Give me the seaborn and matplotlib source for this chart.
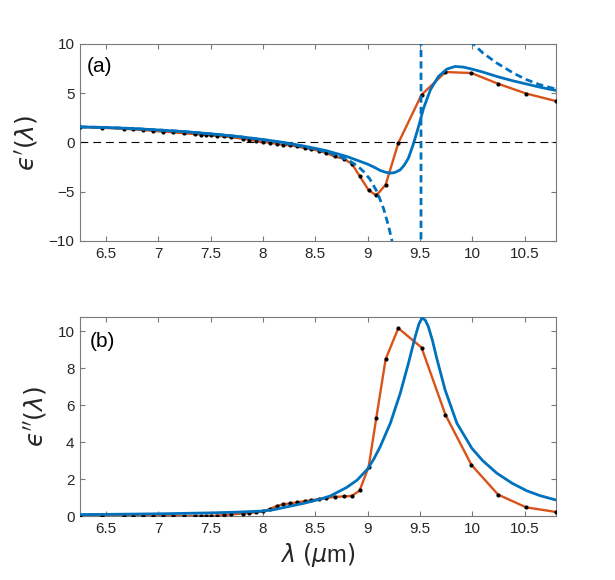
import numpy as np
import pandas as pd
import matplotlib
matplotlib.use("Agg")
import matplotlib.pyplot as plt
import seaborn as sns

# ---------------- data ----------------
wavelength = [6.252, 6.458, 6.671, 6.760, 6.855, 6.950, 7.046, 7.141, 7.246, 7.353,
              7.410, 7.458, 7.506, 7.563, 7.627, 7.693, 7.810, 7.868, 7.930, 8.000,
              8.065, 8.129, 8.190, 8.260, 8.325, 8.398, 8.460, 8.534, 8.605, 8.684,
              8.771, 8.851, 8.924, 9.010, 9.083, 9.172, 9.293, 9.515, 9.744, 9.992,
              10.247, 10.515, 10.801]

eps_real_data = [1.57, 1.49, 1.39, 1.33, 1.27, 1.18, 1.10, 1.03, 0.93, 0.85,
                 0.80, 0.76, 0.72, 0.67, 0.61, 0.54, 0.38, 0.27, 0.17, 0.07,
                 -0.03, -0.13, -0.23, -0.30, -0.40, -0.57, -0.67, -0.84, -1.08, -1.42,
                 -1.65, -2.19, -3.42, -4.85, -5.38, -4.29, -0.06, 4.84, 7.15, 7.05,
                 5.96, 4.97, 4.20]

eps_imag_data = [0.00, 0.00, 0.00, 0.00, 0.00, 0.00, 0.00, 0.00, 0.00, 0.00,
                 0.00, 0.01, 0.01, 0.02, 0.05, 0.09, 0.13, 0.16, 0.20, 0.25,
                 0.38, 0.54, 0.63, 0.69, 0.74, 0.81, 0.85, 0.92, 0.98, 1.04,
                 1.06, 1.09, 1.39, 2.67, 5.33, 8.50, 10.18, 9.13, 5.48, 2.77,
                 1.16, 0.47, 0.22]

# damped model (blue solid), real part
model_re_wl = [6.25, 6.5, 6.75, 7.0, 7.25, 7.5, 7.75, 8.0, 8.2, 8.4, 8.6, 8.8,
               9.0, 9.06, 9.12, 9.17, 9.217, 9.26, 9.312, 9.35, 9.39, 9.44, 9.487,
               9.535, 9.6, 9.677, 9.757, 9.837, 9.916, 9.996, 10.1, 10.235,
               10.38, 10.52, 10.66, 10.8]
model_re = [1.58, 1.52, 1.42, 1.27, 1.10, 0.88, 0.62, 0.30, 0.00, -0.38, -0.82, -1.42,
            -2.20, -2.50, -2.84, -3.02, -3.11, -3.05, -2.77, -2.30, -1.59, -0.06, 1.63,
            3.49, 5.35, 6.70, 7.45, 7.72, 7.65, 7.45, 7.15, 6.70,
            6.28, 5.93, 5.58, 5.28]

# undamped model (blue dashed), real part -- pole near 9.51 um
undamped_wl = [6.25, 6.5, 6.75, 7.0, 7.25, 7.5, 7.75, 8.0, 8.2, 8.4, 8.5, 8.644,
               8.75, 8.835, 8.9, 8.96, 9.02, 9.09, 9.152, 9.2, 9.232, 9.3, 9.4,
               9.505, 9.515, 9.6, 9.7, 9.8, 9.9, 10.0, 10.1, 10.235, 10.4, 10.52,
               10.65, 10.8]
undamped_re = [1.58, 1.52, 1.42, 1.27, 1.10, 0.88, 0.62, 0.28, -0.05, -0.45, -0.68, -1.08,
               -1.50, -1.93, -2.35, -2.94, -3.70, -5.00, -6.70, -8.50, -9.95, -15.0, -30.0,
               -400.0, 400.0, 40.0, 20.0, 14.5, 11.8, 10.1, 9.1, 8.06, 7.0, 6.37,
               5.85, 5.42]

# damped model (blue solid), imaginary part
model_im_wl = [6.25, 6.5, 7.0, 7.5, 7.75, 8.0, 8.1, 8.23, 8.39, 8.55, 8.644, 8.8,
               8.9, 9.0, 9.06, 9.12, 9.217, 9.312, 9.39, 9.455, 9.49, 9.52, 9.55,
               9.58, 9.62, 9.66, 9.74, 9.853, 9.996, 10.1, 10.235, 10.38, 10.52,
               10.65, 10.8]
model_im = [0.08, 0.09, 0.12, 0.17, 0.21, 0.27, 0.34, 0.50, 0.69, 0.92, 1.09, 1.55,
            1.95, 2.55, 3.10, 3.76, 5.03, 6.66, 8.28, 9.73, 10.40, 10.73, 10.62,
            10.27, 9.50, 8.56, 6.84, 5.03, 3.67, 3.00, 2.32, 1.78, 1.37,
            1.10, 0.87]

x_ticks = [6.5, 7, 7.5, 8, 8.5, 9, 9.5, 10, 10.5]
x_tick_labels = ["6.5", "7", "7.5", "8", "8.5", "9", "9.5", "10", "10.5"]
y_ticks_a = [-10, -5, 0, 5, 10]
y_ticks_b = [0, 2, 4, 6, 8, 10]

# ---------------- styling ----------------
sns.set_theme(style="white")
plt.rcParams["font.family"] = ["Liberation Sans", "DejaVu Sans"]
plt.rcParams["mathtext.fontset"] = "dejavusans"

BLUE = "#0072BD"
ORANGE = "#D95319"
AX_COL = "#7a7a7a"
TXT_COL = "#262626"

df_data = pd.DataFrame({"wl": wavelength, "re": eps_real_data, "im": eps_imag_data})
df_mre = pd.DataFrame({"wl": model_re_wl, "v": model_re})
df_und = pd.DataFrame({"wl": undamped_wl, "v": undamped_re})
df_mim = pd.DataFrame({"wl": model_im_wl, "v": model_im})

fig = plt.figure(figsize=(6.15, 5.8), dpi=100)
ax1 = fig.add_axes([0.130, 0.5845, 0.774, 0.3397])
ax2 = fig.add_axes([0.130, 0.1103, 0.774, 0.343])

def style_axes(ax):
    for s in ax.spines.values():
        s.set_color(AX_COL)
        s.set_linewidth(0.8)
        s.set_visible(True)
    ax.tick_params(direction="in", length=3.5, width=0.8, color=AX_COL,
                   top=True, right=True, bottom=True, left=True,
                   labelsize=11, labelcolor=TXT_COL, pad=4)
    ax.set_xlim(6.25, 10.8)
    ax.set_xticks(x_ticks)
    ax.set_xticklabels(x_tick_labels)
    ax.grid(False)

# ---- panel (a)
ax1.axhline(0, color="black", lw=0.8, dashes=(7, 4.5), zorder=1)
sns.lineplot(data=df_data, x="wl", y="re", ax=ax1, color=ORANGE, lw=1.7,
             sort=False, estimator=None, zorder=2)
sns.scatterplot(data=df_data, x="wl", y="re", ax=ax1, color="black", s=9,
                edgecolor="black", linewidth=0, zorder=3)
sns.lineplot(data=df_und, x="wl", y="v", ax=ax1, color=BLUE, lw=2.0,
             sort=False, estimator=None, zorder=4, dashes=False)
ax1.lines[-1].set_dashes((2.6, 1.5))
sns.lineplot(data=df_mre, x="wl", y="v", ax=ax1, color=BLUE, lw=2.0,
             sort=False, estimator=None, zorder=5)
ax1.set_ylim(-10, 10)
ax1.set_yticks(y_ticks_a)
ax1.set_xlabel("")
ax1.set_ylabel("$\u03f5'(\\lambda)$", fontsize=18, color=TXT_COL, labelpad=6)
style_axes(ax1)
ax1.text(0.015, 0.885, "(a)", transform=ax1.transAxes, fontsize=15,
         va="center", ha="left", color="black")

# ---- panel (b)
sns.lineplot(data=df_data, x="wl", y="im", ax=ax2, color=ORANGE, lw=1.7,
             sort=False, estimator=None, zorder=2)
sns.scatterplot(data=df_data, x="wl", y="im", ax=ax2, color="black", s=9,
                edgecolor="black", linewidth=0, zorder=3)
sns.lineplot(data=df_mim, x="wl", y="v", ax=ax2, color=BLUE, lw=2.0,
             sort=False, estimator=None, zorder=5)
ax2.set_ylim(0, 10.78)
ax2.set_yticks(y_ticks_b)
ax2.set_xlabel("$\\lambda\\ (\\mu$m$)$", fontsize=17, color=TXT_COL, labelpad=4)
ax2.set_ylabel("$\u03f5''(\\lambda)$", fontsize=18, color=TXT_COL, labelpad=6)
style_axes(ax2)
ax2.text(0.02, 0.876, "(b)", transform=ax2.transAxes, fontsize=15,
         va="center", ha="left", color="black")

fig.savefig("out.png", dpi=100)
